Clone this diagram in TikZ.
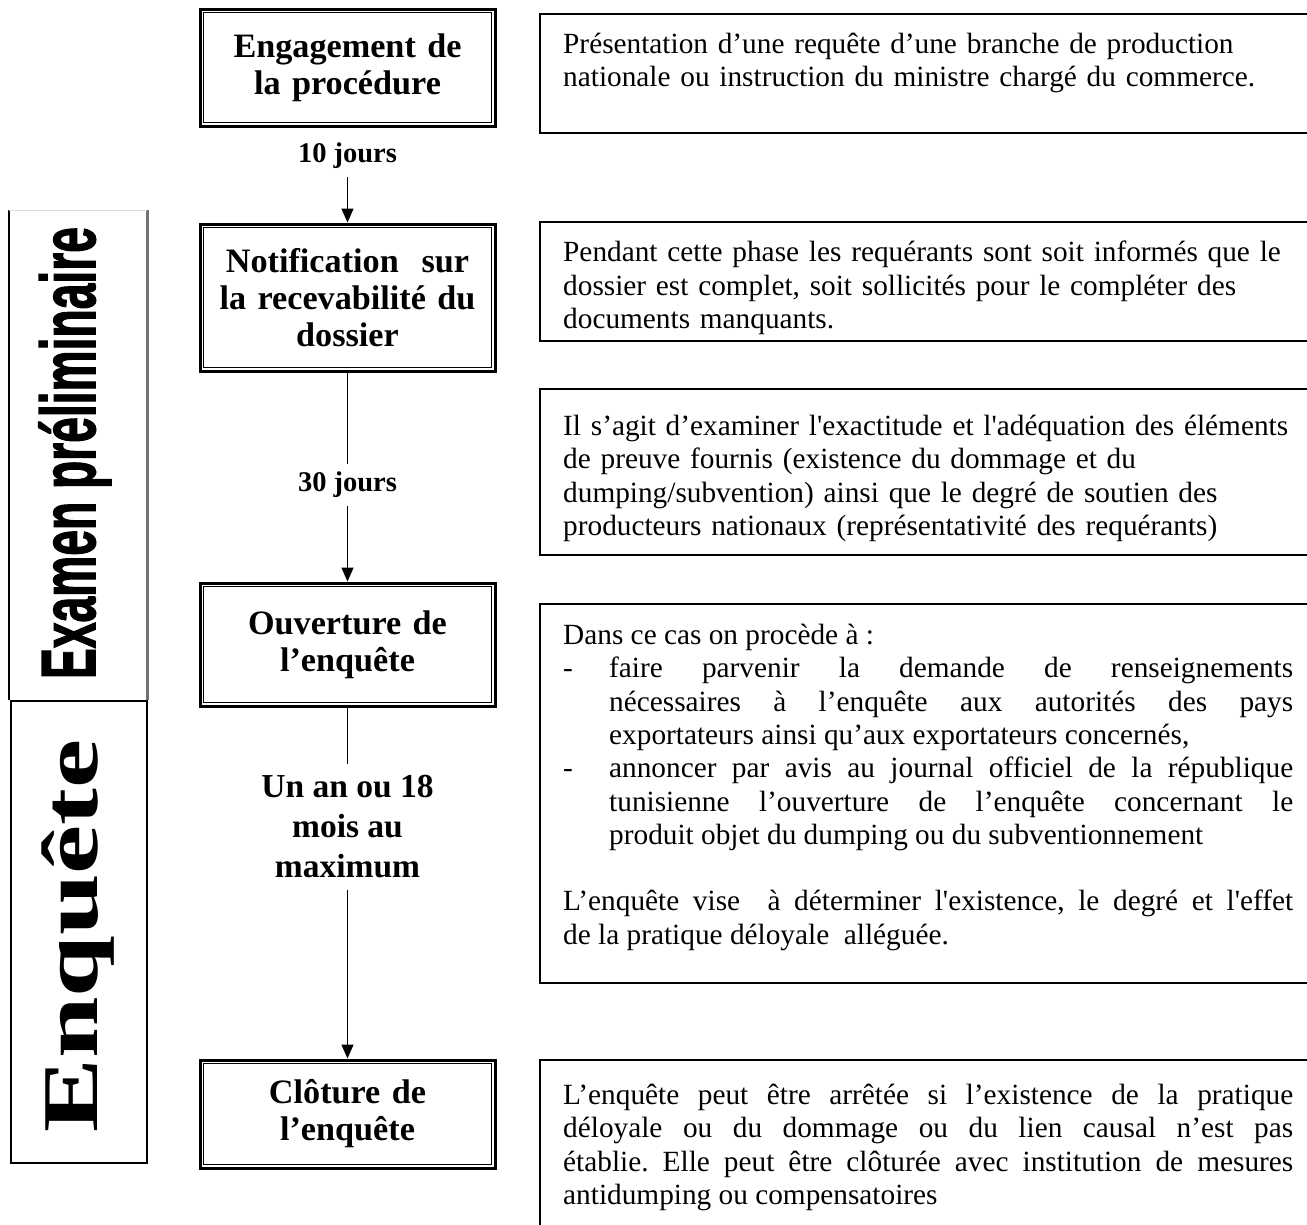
\documentclass[tikz,border=0pt]{standalone}
\usepackage{graphicx}
\usepackage{fontspec}
\setmainfont{Liberation Serif}
\newfontfamily\examfont{Liberation Sans}[UprightFeatures={FakeBold=2}, BoldFeatures={FakeBold=2}]
\usetikzlibrary{arrows.meta}

\tikzset{
  etape/.style={draw, line width=3pt, minimum width=295pt, text width=270pt, align=center,
    font=\fontsize{34.2}{37}\selectfont\bfseries},
  jalon/.style={align=center, inner sep=8pt, font=\fontsize{28.5}{40}\selectfont\bfseries},
  fleche/.style={line width=1.5pt, -{Triangle[length=14pt,width=12pt]}},
  lien/.style={line width=1.5pt},
  cadre/.style={line width=1.8pt},
  texte/.style={anchor=north west, inner sep=0pt, text width=730pt,
    font=\fontsize{29.3}{33.3}\selectfont, execute at begin node={\parindent=0pt\frenchspacing}},
}

\begin{document}
\begin{tikzpicture}[x=1pt, y=-1pt]
  \path[use as bounding box] (0,0) rectangle (1307,1224);
  \clip (0,0) rectangle (1307,1224);
  \fill[white] (0,0) rectangle (1307,1224);

  % bandeau gauche : examen preliminaire
  \draw[line width=2pt] (9,210) -- (9,700);
  \draw[line width=3pt, black!55] (147,210) -- (147,700);
  \draw[line width=1pt, black!15] (9,210) -- (147,210);
  \node[rotate=90, anchor=base, inner sep=0pt] (examen) at (95,453)
    {\examfont\bfseries\fontsize{77}{77}\selectfont\scalebox{0.6}[1]{Examen préliminaire}};

  % bandeau gauche : enquete
  \draw[line width=2.5pt] (11,701) rectangle (147,1163);
  \node[rotate=90, anchor=base, inner sep=0pt] (enquete) at (97,936)
    {\fontsize{79}{79}\selectfont\bfseries\scalebox{1.4}[1]{Enquête}};

  % etapes
  \node[etape, minimum height=117pt] (engage) at (347.5,67.5) {Engagement de\\la procédure};
  \node[etape, minimum height=147pt] (notif) at (347.5,297.5) {Notification\ \ sur\\la recevabilité du\\dossier};
  \node[etape, minimum height=123pt] (ouvert) at (347.5,644.5) {Ouverture de\\l’enquête};
  \node[etape, minimum height=108pt] (cloture) at (347.5,1114) {Clôture de\\l’enquête};
  \foreach \n in {engage,notif,ouvert,cloture}
    \draw[line width=1.4pt] ([xshift=5pt,yshift=-5pt]\n.north west) rectangle ([xshift=-5pt,yshift=5pt]\n.south east);

  % delais
  \node[jalon] (j10) at (347.5,156) {10 jours};
  \node[jalon] (j30) at (347.5,485) {30 jours};
  \node[jalon, inner sep=11pt, font=\fontsize{33.5}{40}\selectfont\bfseries] (unan) at (347.5,827) {Un an ou 18\\mois au\\maximum};

  \draw[fleche] (j10) -- (notif);
  \draw[lien] (notif) -- (j30);
  \draw[fleche] (j30) -- (ouvert);
  \draw[lien] (ouvert) -- (unan);
  \draw[fleche] (unan) -- (cloture);

  % cadres de droite
  \draw[cadre] (540,14) rectangle (1330,133);
  \draw[cadre] (540,222) rectangle (1330,341);
  \draw[cadre] (540,389) rectangle (1330,555);
  \draw[cadre] (540,604) rectangle (1330,983);
  \draw[cadre] (540,1060) rectangle (1330,1240);

  \node[texte, align=left] (presentation) at (563,33)
    {Présentation d’une requête d’une branche de production\\
     nationale ou instruction du ministre chargé du commerce.};
  \node[texte, align=left] (phase) at (563,241)
    {Pendant cette phase les requérants sont soit informés que le\\
     dossier est complet, soit sollicités pour le compléter des\\
     documents manquants.};
  \node[texte, align=left] (examiner) at (563,415)
    {Il s’agit d’examiner l\textquotesingle exactitude et l\textquotesingle adéquation des éléments\\
     de preuve fournis (existence du dommage et du\\
     dumping/subvention) ainsi que le degré de soutien des\\
     producteurs nationaux (représentativité des requérants)};
  \node[texte, align=justify] (procede) at (563,624)
    {Dans ce cas on procède à :\par
     \hangindent=46pt\hangafter=1\makebox[46pt][l]{-}faire parvenir la demande de renseignements\linebreak
     nécessaires à l’enquête aux autorités des pays\linebreak
     exportateurs ainsi qu’aux exportateurs concernés,\par
     \hangindent=46pt\hangafter=1\makebox[46pt][l]{-}annoncer par avis au journal officiel de la république\linebreak
     tunisienne l’ouverture de l’enquête concernant le\linebreak
     produit objet du dumping ou du subventionnement\par
     \mbox{}\par
     L’enquête vise\ \ à déterminer l\textquotesingle existence, le degré et l\textquotesingle effet\linebreak
     de la pratique déloyale\ \ alléguée.};
  \node[texte, align=justify] (cloturee) at (563,1084)
    {L’enquête peut être arrêtée si l’existence de la pratique\linebreak
     déloyale ou du dommage ou du lien causal n’est pas\linebreak
     établie. Elle peut être clôturée avec institution de mesures\linebreak
     antidumping ou compensatoires};
\end{tikzpicture}
\end{document}
